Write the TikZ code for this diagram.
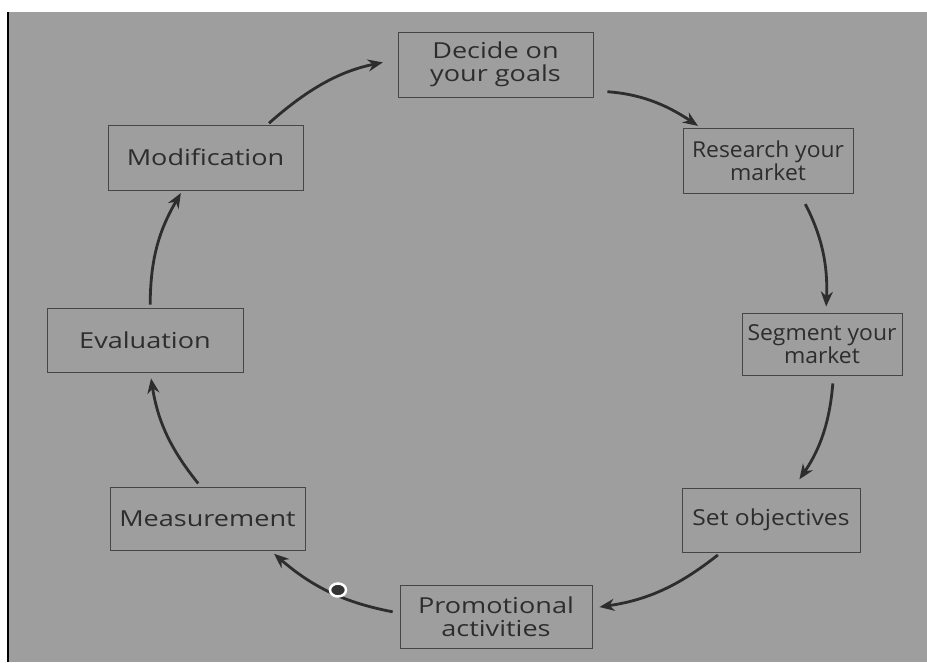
\documentclass[tikz,border=0pt]{standalone}
\usepackage{fontspec}
\setmainfont{Open Sans}
\newfontfamily\fA[FakeStretch=1.23]{Open Sans}
\newfontfamily\fB[FakeStretch=1.12]{Open Sans}
\newfontfamily\fC[FakeStretch=1.04]{Open Sans}
\usetikzlibrary{arrows.meta}
\definecolor{bg}{RGB}{158,158,158}
\definecolor{ink}{RGB}{45,45,45}
\definecolor{edge}{RGB}{70,70,70}
\tikzset{
  box/.style={draw=edge, line width=0.9pt, rectangle, inner sep=0pt, align=center,
    text=ink, font=\fontsize{22}{23}\selectfont},
  arr/.style={draw=ink, line width=2.8pt, -{Stealth[length=15pt,width=12pt]}, bend left=15}
}
\begin{document}
\begin{tikzpicture}[x=1pt,y=-1pt]
\useasboundingbox (0,0) rectangle (927,662);
\fill[white] (0,0) rectangle (927,662);
\fill[bg] (8,12) rectangle (927,662);
\draw[black, line width=2pt] (8,12) -- (8,662);

\node[box, minimum width=195pt, minimum height=65pt] (dec) at (495.5,64.5) {\fA Decide on\\\fA your goals};
\node[box, minimum width=170pt, minimum height=65pt] (res) at (768,160.5) {\fC Research your\\\fC market};
\node[box, minimum width=160pt, minimum height=62pt] (seg) at (822,344) {\fC Segment your\\\fC market};
\node[box, minimum width=178pt, minimum height=64pt] (set) at (771,520) {\fB Set objectives};
\node[box, minimum width=192pt, minimum height=63pt] (pro) at (496,616.5) {\fA Promotional\\\fA activities};
\node[box, minimum width=195pt, minimum height=63pt] (mea) at (207.5,518.5) {\fA Measurement};
\node[box, minimum width=196pt, minimum height=64pt] (eva) at (145,340) {\fA Evaluation};
\node[box, minimum width=195pt, minimum height=65pt] (mod) at (205.5,157.5) {\fA Modification};

\draw[arr, shorten <=14pt, shorten >=3pt] (dec.-15) to (res.154);
\draw[arr, shorten <=12pt, shorten >=6pt] (res.-46) to (seg.83);
\draw[arr, shorten <=8pt, shorten >=10pt] (seg.-70) to (set.55);
\draw[arr, shorten <=4pt, shorten >=7pt] (set.213) to (pro.5);
\draw[arr, shorten <=7pt, shorten >=5pt] (pro.178) to (mea.-27);
\draw[arr, shorten <=4pt, shorten >=6pt] (mea.102) to (eva.-81);
\draw[arr, shorten <=3pt, shorten >=3pt] (eva.81) to (mod.-125);
\draw[arr, shorten <=2pt, shorten >=15pt] (mod.28) to (dec.177);

\draw[white, line width=2.5pt, fill=black!80] (338,590) ellipse (8 and 6.5);
\end{tikzpicture}
\end{document}
